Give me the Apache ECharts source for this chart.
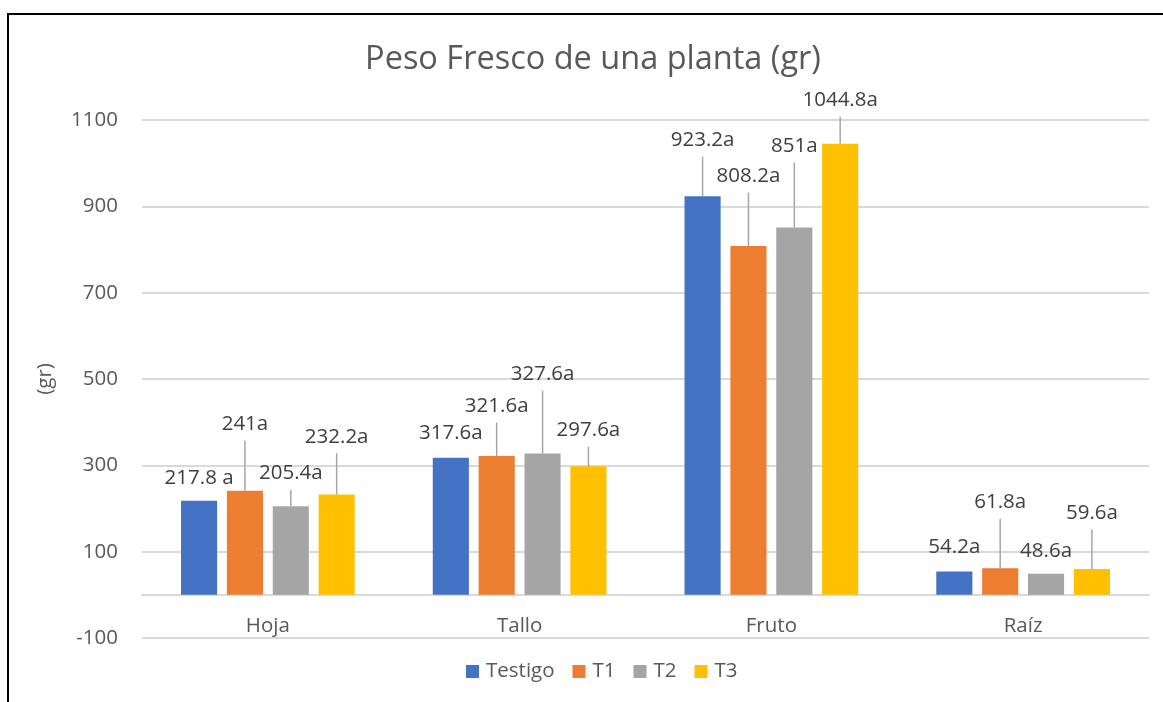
<!DOCTYPE html>
<html>
<head>
<meta charset="utf-8">
<title>Peso Fresco de una planta</title>
<script src="https://cdn.jsdelivr.net/npm/echarts@6/dist/echarts.min.js"></script>
<style>
  html, body { margin: 0; padding: 0; background: #fff; overflow: hidden; }
  #chart-box { position: absolute; left: 0; top: 0; width: 1163px; height: 702px; }
  #frame { position: absolute; left: 7px; top: 13px; width: 2000px; height: 2000px;
           border-left: 2px solid #000; border-top: 2px solid #000; pointer-events: none; }
</style>
</head>
<body>
<div id="chart-box"></div>
<div id="frame"></div>
<script>
// categorias y series
const categories = ['Hoja', 'Tallo', 'Fruto', 'Raíz'];
const seriesNames = ['Testigo', 'T1', 'T2', 'T3'];

const testigo = [217.8, 317.6, 923.2, 54.2];
const t1 = [241, 321.6, 808.2, 61.8];
const t2 = [205.4, 327.6, 851, 48.6];
const t3 = [232.2, 297.6, 1044.8, 59.6];

// etiquetas de datos
const testigoLabels = ['217.8 a', '317.6a', '923.2a', '54.2a'];
const t1Labels = ['241a', '321.6a', '808.2a', '61.8a'];
const t2Labels = ['205.4a', '327.6a', '851a', '48.6a'];
const t3Labels = ['232.2a', '297.6a', '1044.8a', '59.6a'];

// altura (gr) donde termina la linea guia de cada etiqueta
const testigoTop = [233, 337, 1015, 72];
const t1Top = [357, 399, 932, 176];
const t2Top = [243, 473, 1001, 64];
const t3Top = [328, 343, 1107, 152];

const yTicks = [-100, 100, 300, 500, 700, 900, 1100];

const values = [testigo, t1, t2, t3];
const labels = [testigoLabels, t1Labels, t2Labels, t3Labels];
const tops = [testigoTop, t1Top, t2Top, t3Top];
const colors = ['#4472C4', '#ED7D31', '#A5A5A5', '#FFC000'];

const FONT = '"Open Sans", sans-serif';
const CAT_GAP = 0.31;
const BAR_GAP = 0.27;
const GRID_TOP = 120, GRID_BOTTOM = 64, H = 702;
const yMin = yTicks[0], yMax = yTicks[yTicks.length - 1];
// eje x en el 0, etiquetas debajo
const zeroOffset = (0 - yMin) / (yMax - yMin) * (H - GRID_TOP - GRID_BOTTOM);

function leaderSeries(k) {
  return {
    type: 'custom',
    name: 'lbl' + k,
    z: 5,
    clip: false,
    data: categories.map((c, i) => [i, values[k][i], tops[k][i], labels[k][i]]),
    renderItem: function (params, api) {
      const band = api.size([1, 0])[0];
      const groupW = band * (1 - CAT_GAP);
      const bw = groupW / (4 + 3 * BAR_GAP);
      const center = api.coord([api.value(0), 0])[0];
      const x = center - groupW / 2 + k * bw * (1 + BAR_GAP) + bw / 2;
      const yBar = api.coord([api.value(0), api.value(1)])[1];
      const yTop = api.coord([api.value(0), api.value(2)])[1];
      const children = [];
      if (yBar - yTop > 10) {
        children.push({
          type: 'line',
          shape: { x1: x, y1: yBar, x2: x, y2: yTop },
          style: { stroke: '#A6A6A6', lineWidth: 1.5 }
        });
      }
      children.push({
        type: 'text',
        style: {
          x: x, y: yTop - 6,
          text: labels[k][params.dataIndex],
          align: 'center', verticalAlign: 'bottom',
          fill: '#404040', font: '20.5px ' + FONT
        }
      });
      return { type: 'group', children: children };
    }
  };
}

const chartObj = echarts.init(document.getElementById('chart-box'));
const option = {
  animation: false,
  textStyle: { fontFamily: FONT },
  title: {
    text: 'Peso Fresco de una planta (gr)',
    left: 588, top: 38, textAlign: 'center',
    textStyle: { fontSize: 32.5, fontWeight: 'normal', color: '#595959', fontFamily: FONT }
  },
  legend: {
    data: seriesNames,
    left: 461, top: 656,
    icon: 'rect', itemWidth: 13, itemHeight: 13, itemGap: 18,
    textStyle: { fontSize: 20.5, color: '#595959', fontFamily: FONT, padding: [0, 0, 0, 2] }
  },
  grid: { left: 142, right: 14, top: GRID_TOP, bottom: GRID_BOTTOM },
  xAxis: {
    type: 'category',
    data: categories,
    offset: -zeroOffset,
    axisTick: { show: false },
    axisLine: { onZero: false, lineStyle: { color: '#D9D9D9', width: 2 } },
    axisLabel: { color: '#595959', fontSize: 20.5, margin: 21, fontFamily: FONT }
  },
  yAxis: {
    type: 'value',
    min: yMin, max: yMax, interval: 200,
    name: '(gr)', nameLocation: 'middle', nameGap: 86,
    nameTextStyle: { color: '#595959', fontSize: 20.5, fontFamily: FONT },
    axisLine: { show: false },
    axisTick: { show: false },
    axisLabel: { color: '#595959', fontSize: 20.5, margin: 24, fontFamily: FONT,
                 formatter: v => String(v) },
    splitLine: { lineStyle: { color: '#D9D9D9', width: 2 } }
  },
  series: seriesNames.map((n, k) => ({
    type: 'bar',
    name: n,
    data: values[k],
    barGap: (BAR_GAP * 100) + '%',
    barCategoryGap: (CAT_GAP * 100) + '%',
    itemStyle: { color: colors[k] }
  })).concat([0, 1, 2, 3].map(leaderSeries))
};
chartObj.setOption(option);
</script>
</body>
</html>
